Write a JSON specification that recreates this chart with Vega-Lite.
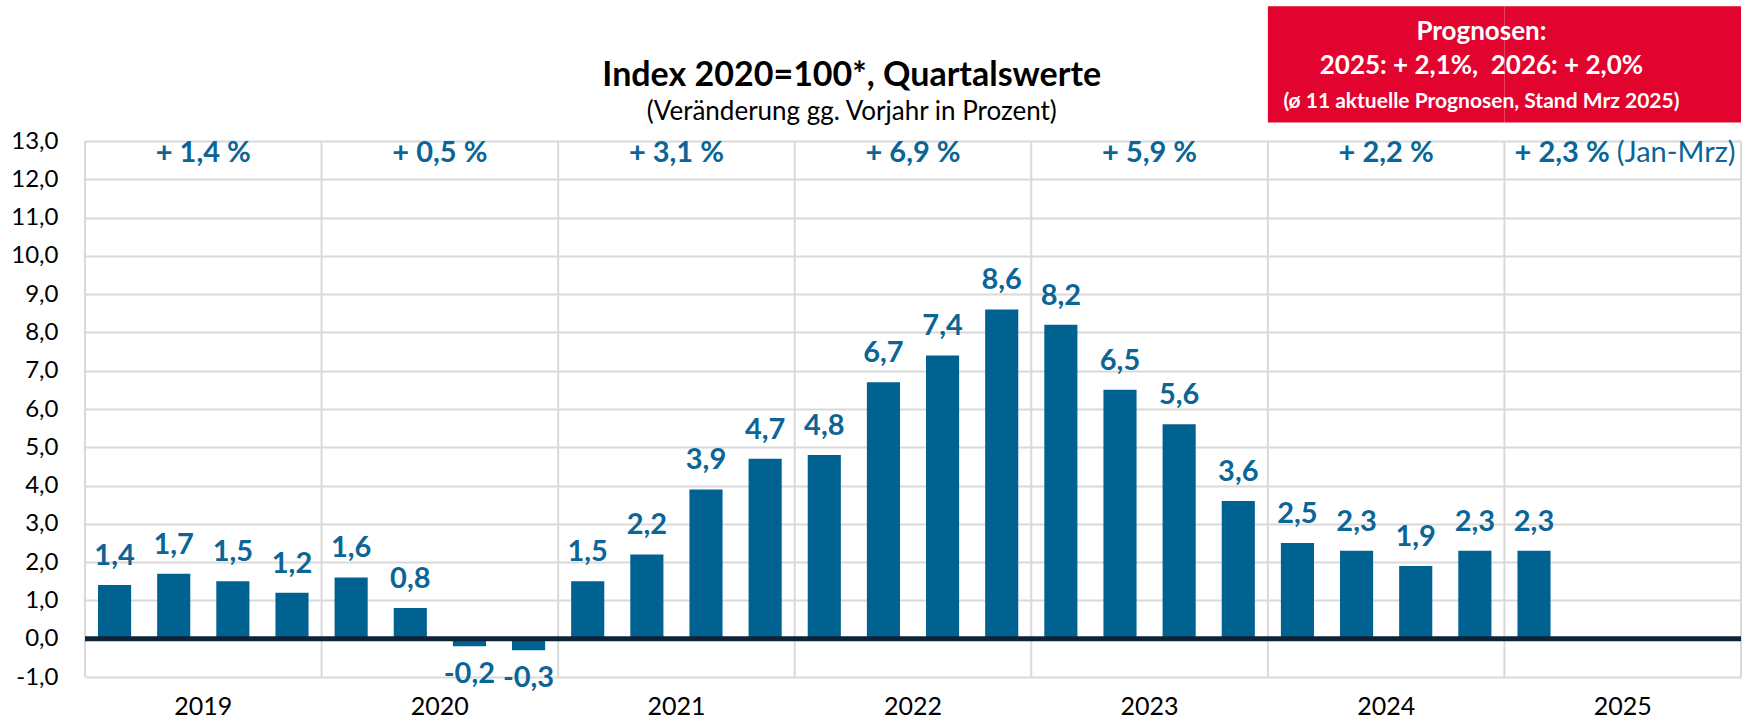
{
  "$schema": "https://vega.github.io/schema/vega-lite/v6.json",
  "autosize": {"type": "none"},
  "width": 1656,
  "height": 536,
  "padding": {"left": 85, "top": 141, "right": 2, "bottom": 44},
  "background": "white",
  "config": {
    "locale": {"number": {"decimal": ",", "thousands": ".", "grouping": [3], "currency": ["", " €"], "minus": "-"}},
    "view": {"stroke": null},
    "font": "Lato",
    "axis": {"domain": false, "ticks": false, "labelFont": "Lato", "labelColor": "black", "labelOverlap": false},
    "axisX": {"labelPadding": 17, "labelAngle": 0, "grid": false, "labelFontSize": 25},
    "axisY": {"labelPadding": 27, "grid": true, "gridColor": "#D9D9D9", "gridWidth": 2, "labelFontSize": 24, "tickCount": 15}
  },
  "datasets": {
    "quarters": [
      {"year": "2019", "quarter": "Q1", "value": 1.4},
      {"year": "2019", "quarter": "Q2", "value": 1.7},
      {"year": "2019", "quarter": "Q3", "value": 1.5},
      {"year": "2019", "quarter": "Q4", "value": 1.2},
      {"year": "2020", "quarter": "Q1", "value": 1.6},
      {"year": "2020", "quarter": "Q2", "value": 0.8},
      {"year": "2020", "quarter": "Q3", "value": -0.2},
      {"year": "2020", "quarter": "Q4", "value": -0.3},
      {"year": "2021", "quarter": "Q1", "value": 1.5},
      {"year": "2021", "quarter": "Q2", "value": 2.2},
      {"year": "2021", "quarter": "Q3", "value": 3.9},
      {"year": "2021", "quarter": "Q4", "value": 4.7},
      {"year": "2022", "quarter": "Q1", "value": 4.8},
      {"year": "2022", "quarter": "Q2", "value": 6.7},
      {"year": "2022", "quarter": "Q3", "value": 7.4},
      {"year": "2022", "quarter": "Q4", "value": 8.6},
      {"year": "2023", "quarter": "Q1", "value": 8.2},
      {"year": "2023", "quarter": "Q2", "value": 6.5},
      {"year": "2023", "quarter": "Q3", "value": 5.6},
      {"year": "2023", "quarter": "Q4", "value": 3.6},
      {"year": "2024", "quarter": "Q1", "value": 2.5},
      {"year": "2024", "quarter": "Q2", "value": 2.3},
      {"year": "2024", "quarter": "Q3", "value": 1.9},
      {"year": "2024", "quarter": "Q4", "value": 2.3},
      {"year": "2025", "quarter": "Q1", "value": 2.3}
    ],
    "years": [
      {"year": "2019", "annual": "+ 1,4 %"},
      {"year": "2020", "annual": "+ 0,5 %"},
      {"year": "2021", "annual": "+ 3,1 %"},
      {"year": "2022", "annual": "+ 6,9 %"},
      {"year": "2023", "annual": "+ 5,9 %"},
      {"year": "2024", "annual": "+ 2,2 %"},
      {"year": "2025", "annual": "+ 2,3 %", "note": "(Jan-Mrz)"}
    ],
    "box": [{"year": "2024"}, {"year": "2025"}]
  },
  "layer": [
    {
      "data": {"name": "years"},
      "mark": {"type": "rule", "color": "#D9D9D9", "strokeWidth": 2},
      "encoding": {
        "x": {"field": "year", "type": "ordinal", "bandPosition": 0, "title": null, "scale": {"paddingInner": 0, "paddingOuter": 0}}
      }
    },
    {
      "data": {"name": "years"},
      "transform": [{"filter": "datum.year == '2025'"}],
      "mark": {"type": "rule", "color": "#D9D9D9", "strokeWidth": 2},
      "encoding": {
        "x": {"field": "year", "type": "ordinal", "bandPosition": 1, "title": null}
      }
    },
    {
      "data": {"name": "quarters"},
      "mark": {"type": "bar", "color": "#006290"},
      "encoding": {
        "x": {"field": "year", "type": "ordinal", "title": null},
        "xOffset": {"field": "quarter", "type": "ordinal", "scale": {"paddingInner": 0.44, "paddingOuter": 0.22}},
        "y": {"field": "value", "type": "quantitative", "title": null,
              "scale": {"domain": [-1, 13], "nice": false, "zero": false},
              "axis": {"values": [-1, 0, 1, 2, 3, 4, 5, 6, 7, 8, 9, 10, 11, 12, 13], "format": ".1f", "grid": true, "tickCount": 15}}
      }
    },
    {
      "data": {"name": "box"},
      "mark": {"type": "rect", "color": "#E2032E"},
      "encoding": {
        "x": {"field": "year", "type": "ordinal", "title": null},
        "y": {"datum": 16.52, "type": "quantitative", "title": null, "scale": {"domain": [-1, 13], "nice": false, "zero": false},
              "axis": {"values": [-1, 0, 1, 2, 3, 4, 5, 6, 7, 8, 9, 10, 11, 12, 13], "format": ".1f", "grid": true, "tickCount": 15}},
        "y2": {"datum": 13.48}
      }
    },
    {
      "data": {"values": [{}]},
      "mark": {"type": "text", "text": "Index 2020=100*, Quartalswerte", "font": "Lato", "fontSize": 34, "fontWeight": "bold", "color": "black", "baseline": "middle", "dx": 57},
      "encoding": {
        "x": {"datum": "2022", "type": "ordinal", "bandPosition": 0},
        "y": {"datum": 14.7, "type": "quantitative", "title": null, "scale": {"domain": [-1, 13], "nice": false, "zero": false},
              "axis": {"values": [-1, 0, 1, 2, 3, 4, 5, 6, 7, 8, 9, 10, 11, 12, 13], "format": ".1f", "grid": true, "tickCount": 15}}
      }
    },
    {
      "data": {"values": [{}]},
      "mark": {"type": "text", "text": "(Veränderung gg. Vorjahr in Prozent)", "font": "Lato", "fontSize": 26, "color": "black", "baseline": "middle", "dx": 57},
      "encoding": {
        "x": {"datum": "2022", "type": "ordinal", "bandPosition": 0},
        "y": {"datum": 13.75, "type": "quantitative", "title": null, "scale": {"domain": [-1, 13], "nice": false, "zero": false},
              "axis": {"values": [-1, 0, 1, 2, 3, 4, 5, 6, 7, 8, 9, 10, 11, 12, 13], "format": ".1f", "grid": true, "tickCount": 15}}
      }
    },
    {
      "data": {"values": [{}]},
      "mark": {"type": "text", "text": "Prognosen:", "font": "Lato", "fontSize": 26, "fontWeight": "bold", "color": "white", "baseline": "middle", "dx": -23},
      "encoding": {
        "x": {"datum": "2025", "type": "ordinal", "bandPosition": 0},
        "y": {"datum": 15.84, "type": "quantitative", "title": null, "scale": {"domain": [-1, 13], "nice": false, "zero": false},
              "axis": {"values": [-1, 0, 1, 2, 3, 4, 5, 6, 7, 8, 9, 10, 11, 12, 13], "format": ".1f", "grid": true, "tickCount": 15}}
      }
    },
    {
      "data": {"values": [{}]},
      "mark": {"type": "text", "text": "2025: + 2,1%,\u00a0 2026: + 2,0%", "font": "Lato", "fontSize": 26, "fontWeight": "bold", "color": "white", "baseline": "middle", "dx": -23},
      "encoding": {
        "x": {"datum": "2025", "type": "ordinal", "bandPosition": 0},
        "y": {"datum": 14.95, "type": "quantitative", "title": null, "scale": {"domain": [-1, 13], "nice": false, "zero": false},
              "axis": {"values": [-1, 0, 1, 2, 3, 4, 5, 6, 7, 8, 9, 10, 11, 12, 13], "format": ".1f", "grid": true, "tickCount": 15}}
      }
    },
    {
      "data": {"values": [{}]},
      "mark": {"type": "text", "text": "(ø 11 aktuelle Prognosen, Stand Mrz 2025)", "font": "Lato", "fontSize": 21, "fontWeight": "bold", "color": "white", "baseline": "middle", "dx": -23},
      "encoding": {
        "x": {"datum": "2025", "type": "ordinal", "bandPosition": 0},
        "y": {"datum": 14.03, "type": "quantitative", "title": null, "scale": {"domain": [-1, 13], "nice": false, "zero": false},
              "axis": {"values": [-1, 0, 1, 2, 3, 4, 5, 6, 7, 8, 9, 10, 11, 12, 13], "format": ".1f", "grid": true, "tickCount": 15}}
      }
    },
    {
      "data": {"values": [{}]},
      "mark": {"type": "rule", "color": "#0F2338", "strokeWidth": 5},
      "encoding": {
        "y": {"datum": 0, "type": "quantitative", "title": null, "scale": {"domain": [-1, 13], "nice": false, "zero": false},
              "axis": {"values": [-1, 0, 1, 2, 3, 4, 5, 6, 7, 8, 9, 10, 11, 12, 13], "format": ".1f", "grid": true, "tickCount": 15}}
      }
    },
    {
      "data": {"name": "quarters"},
      "transform": [{"filter": "datum.value >= 0"}],
      "mark": {"type": "text", "font": "Lato", "fontSize": 29, "fontWeight": "bold", "color": "#0B6596", "baseline": "alphabetic", "dy": -20},
      "encoding": {
        "x": {"field": "year", "type": "ordinal", "title": null},
        "xOffset": {"field": "quarter", "type": "ordinal"},
        "y": {"field": "value", "type": "quantitative", "title": null, "scale": {"domain": [-1, 13], "nice": false, "zero": false},
              "axis": {"values": [-1, 0, 1, 2, 3, 4, 5, 6, 7, 8, 9, 10, 11, 12, 13], "format": ".1f", "grid": true, "tickCount": 15}},
        "text": {"field": "value", "type": "quantitative", "format": ".1f"}
      }
    },
    {
      "data": {"name": "quarters"},
      "transform": [{"filter": "datum.value < 0"}],
      "mark": {"type": "text", "font": "Lato", "fontSize": 29, "fontWeight": "bold", "color": "#0B6596", "baseline": "top", "dy": 14},
      "encoding": {
        "x": {"field": "year", "type": "ordinal", "title": null},
        "xOffset": {"field": "quarter", "type": "ordinal"},
        "y": {"field": "value", "type": "quantitative", "title": null, "scale": {"domain": [-1, 13], "nice": false, "zero": false},
              "axis": {"values": [-1, 0, 1, 2, 3, 4, 5, 6, 7, 8, 9, 10, 11, 12, 13], "format": ".1f", "grid": true, "tickCount": 15}},
        "text": {"field": "value", "type": "quantitative", "format": ".1f"}
      }
    },
    {
      "data": {"name": "years"},
      "transform": [{"filter": "datum.year != '2025'"}],
      "mark": {"type": "text", "font": "Lato", "fontSize": 29, "fontWeight": "bold", "color": "#0B6596", "baseline": "alphabetic", "dy": 21},
      "encoding": {
        "x": {"field": "year", "type": "ordinal", "title": null},
        "y": {"datum": 13, "type": "quantitative", "title": null, "scale": {"domain": [-1, 13], "nice": false, "zero": false},
              "axis": {"values": [-1, 0, 1, 2, 3, 4, 5, 6, 7, 8, 9, 10, 11, 12, 13], "format": ".1f", "grid": true, "tickCount": 15}},
        "text": {"field": "annual"}
      }
    },
    {
      "data": {"name": "years"},
      "transform": [{"filter": "datum.year == '2025'"}],
      "mark": {"type": "text", "font": "Lato", "fontSize": 29, "fontWeight": "bold", "color": "#0B6596", "baseline": "alphabetic", "align": "right", "dy": 21, "dx": -13},
      "encoding": {
        "x": {"field": "year", "type": "ordinal", "title": null},
        "y": {"datum": 13, "type": "quantitative", "title": null, "scale": {"domain": [-1, 13], "nice": false, "zero": false},
              "axis": {"values": [-1, 0, 1, 2, 3, 4, 5, 6, 7, 8, 9, 10, 11, 12, 13], "format": ".1f", "grid": true, "tickCount": 15}},
        "text": {"field": "annual"}
      }
    },
    {
      "data": {"name": "years"},
      "transform": [{"filter": "datum.year == '2025'"}],
      "mark": {"type": "text", "font": "Lato", "fontSize": 29, "color": "#0B6596", "baseline": "alphabetic", "align": "left", "dy": 21, "dx": -6},
      "encoding": {
        "x": {"field": "year", "type": "ordinal", "title": null},
        "y": {"datum": 13, "type": "quantitative", "title": null, "scale": {"domain": [-1, 13], "nice": false, "zero": false},
              "axis": {"values": [-1, 0, 1, 2, 3, 4, 5, 6, 7, 8, 9, 10, 11, 12, 13], "format": ".1f", "grid": true, "tickCount": 15}},
        "text": {"field": "note"}
      }
    }
  ]
}
